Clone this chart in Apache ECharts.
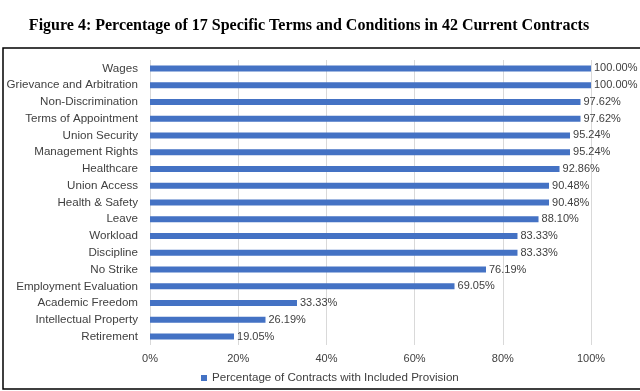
<!DOCTYPE html>
<html>
<head>
<meta charset="utf-8">
<script src="https://cdn.jsdelivr.net/npm/echarts@6/dist/echarts.min.js"></script>
<style>html,body{margin:0;padding:0;background:#fff;}#chart{width:640px;height:391px;}</style>
</head>
<body>
<div id="chart"></div>
<script>
const categories = ["Wages","Grievance and Arbitration","Non-Discrimination","Terms of Appointment","Union Security","Management Rights","Healthcare","Union Access","Health & Safety","Leave","Workload","Discipline","No Strike","Employment Evaluation","Academic Freedom","Intellectual Property","Retirement"];
const values = [100.00,100.00,97.62,97.62,95.24,95.24,92.86,90.48,90.48,88.10,83.33,83.33,76.19,69.05,33.33,26.19,19.05];
const seriesName = "Percentage of Contracts with Included Provision";
const titleText = "Figure 4: Percentage of 17 Specific Terms and Conditions in 42 Current Contracts";

const chart = echarts.init(document.getElementById('chart'), null, {renderer:'canvas'});
chart.setOption({
  animation:false,
  backgroundColor:'#fff',
  title:{text:titleText,left:304,textAlign:'center',top:13,textStyle:{fontFamily:'Liberation Serif',fontWeight:'bold',fontSize:16,color:'#000'}},
  graphic:[{type:'rect',shape:{x:3,y:48,width:640,height:341},style:{fill:'none',stroke:'#000',lineWidth:1.5},silent:true}],
  legend:{data:[seriesName],left:196,top:367,itemWidth:6,itemHeight:6,itemGap:4,icon:'rect',textStyle:{fontFamily:'Liberation Sans',fontSize:11.6,color:'#404040'}},
  grid:{left:150,right:49,top:60,bottom:46,containLabel:false},
  xAxis:{type:'value',min:0,max:100,interval:20,
    axisLabel:{formatter:v=>v+'%',fontFamily:'Liberation Sans',fontSize:11,color:'#404040',margin:8},
    axisLine:{show:false},axisTick:{show:false},
    splitLine:{lineStyle:{color:'#d9d9d9',width:1}}},
  yAxis:{type:'category',data:categories,inverse:true,
    axisLine:{show:false},axisTick:{show:false},
    axisLabel:{fontFamily:'Liberation Sans',fontSize:11.6,color:'#404040',margin:12}},
  series:[{name:seriesName,type:'bar',data:values,barWidth:6,
    itemStyle:{color:'#4472C4'},
    label:{show:true,position:'right',distance:3,formatter:p=>p.value.toFixed(2)+'%',fontFamily:'Liberation Sans',fontSize:11,color:'#404040'}}]
});
</script>
</body>
</html>
